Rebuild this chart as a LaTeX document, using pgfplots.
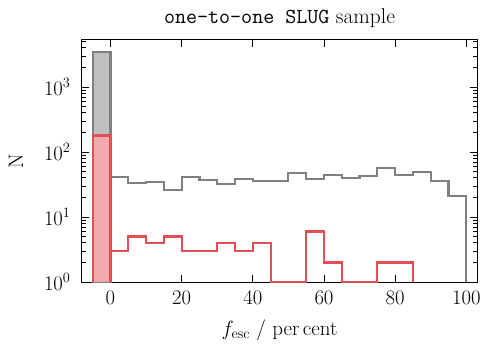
\documentclass[border=0pt]{standalone}
\usepackage{pgfplots}
\pgfplotsset{compat=1.18}
\usetikzlibrary{calc}
\definecolor{gedge}{RGB}{128,128,128}
\definecolor{gfill}{RGB}{191,191,191}
\definecolor{redge}{RGB}{226,78,84}
\definecolor{rfill}{RGB}{240,170,172}
\begin{document}
\begin{tikzpicture}
\begin{axis}[
  scale only axis,
  width=395bp, height=242bp,
  xmin=-8, xmax=103,
  ymode=log, ymin=1, ymax=5300,
  log basis y=10,
  xtick={0,20,40,60,80,100},
  ytick={1,10,100,1000},
  minor ytick={2,3,4,5,6,7,8,9,20,30,40,50,60,70,80,90,200,300,400,500,600,700,800,900,2000,3000,4000,5000},
  tick align=inside,
  xtick pos=both, ytick pos=both,
  major tick length=7bp, minor tick length=4bp,
  every tick/.style={black, line width=0.9bp},
  axis line style={line width=1bp},
  font=\fontsize{21}{25}\selectfont,
  tick label style={font=\fontsize{21}{25}\selectfont},
  xticklabel style={yshift=-6bp},
  yticklabel style={xshift=-8bp},
  xlabel={$f_{\rm esc}$ / per\,cent},
  ylabel={N},
  title={\texttt{one-to-one SLUG} sample},
  title style={font=\fontsize{21.5}{25}\selectfont, yshift=3bp},
  xlabel style={yshift=-8bp},
  ylabel style={yshift=14bp},
  clip=true,
]
% gray first bin filled
\addplot[fill=gfill, draw=gedge, line width=2.2bp] coordinates {(-5,1) (-5,3500) (0,3500) (0,1)} -- cycle;
% red first bin filled
\addplot[fill=rfill, draw=none] coordinates {(-5,1) (-5,180) (0,180) (0,1)} -- cycle;
% gray step outline
\addplot[const plot, draw=gedge, line width=2.2bp] coordinates {
(-5,1) (-5,3500) (0,41) (5,33) (10,35) (15,26) (20,41) (25,37) (30,32) (35,38) (40,36)
(45,36) (50,48) (55,39) (60,44) (65,40) (70,43) (75,57) (80,44) (85,50) (90,36) (95,21) (100,1)};
% red step outline
\addplot[const plot, draw=redge, line width=2.2bp] coordinates {
(-5,1) (-5,180) (0,3) (5,5) (10,4) (15,5) (20,3) (25,3) (30,4) (35,3) (40,4)
(45,1) (50,1) (55,6) (60,2) (65,1) (70,1) (75,2) (80,2) (85,1)};
\addplot[draw=redge, line width=2.2bp] coordinates {(-5,1) (-5,180) (0,180) (0,1)};
\end{axis}
\pgfresetboundingbox
\path ($(current axis.south west)+(-82bp,-65bp)$) rectangle ($(current axis.north east)+(6bp,40bp)$);
\end{tikzpicture}
\end{document}
